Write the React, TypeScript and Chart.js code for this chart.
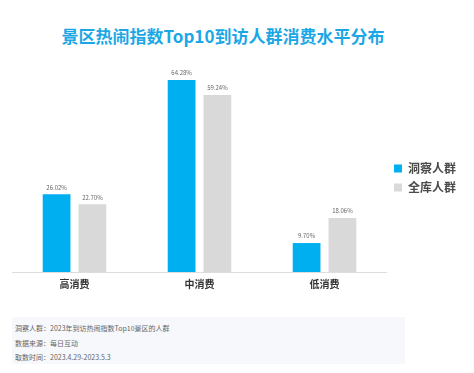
import React, { useEffect, useRef } from "react";
import { Chart, registerables } from "chart.js";

Chart.register(...registerables);

const categories = ["高消费", "中消费", "低消费"];
const seriesNames = ["洞察人群", "全库人群"];
const insightValues = [26.02, 64.28, 9.7];
const allValues = [22.7, 59.24, 18.06];
const seriesColors = ["#00AFEF", "#D9D9D9"];
const titleText = "景区热闹指数Top10到访人群消费水平分布";
const footerLines = [
  "洞察人群：2023年到访热闹指数Top10景区的人群",
  "数据来源：每日互动",
  "取数时间：2023.4.29-2023.5.3",
];

const FONT = "'Noto Sans CJK SC', 'Noto Sans', sans-serif";

const valueLabelPlugin = {
  id: "valueLabels",
  afterDatasetsDraw(chart: any) {
    const ctx = chart.ctx;
    ctx.save();
    ctx.font = `6px ${FONT}`;
    ctx.fillStyle = "#666666";
    ctx.textAlign = "center";
    ctx.textBaseline = "bottom";
    chart.data.datasets.forEach((ds: any, i: number) => {
      const meta = chart.getDatasetMeta(i);
      meta.data.forEach((el: any, j: number) => {
        const v = ds.data[j] as number;
        ctx.fillText(v.toFixed(2) + "%", el.x, el.y - 4);
      });
    });
    ctx.restore();
  },
};

export default function App() {
  const canvasRef = useRef<HTMLCanvasElement>(null);

  useEffect(() => {
    if (!canvasRef.current) return;
    const chart = new Chart(canvasRef.current, {
      type: "bar",
      data: {
        labels: categories,
        datasets: [
          {
            label: seriesNames[0],
            data: insightValues,
            backgroundColor: seriesColors[0],
            categoryPercentage: 0.573,
            barPercentage: 0.775,
          },
          {
            label: seriesNames[1],
            data: allValues,
            backgroundColor: seriesColors[1],
            categoryPercentage: 0.573,
            barPercentage: 0.775,
          },
        ],
      },
      options: {
        responsive: false,
        animation: false,
        layout: { padding: { left: 12, right: 8, top: 10, bottom: 4 } },
        plugins: {
          title: { display: false },
          tooltip: { enabled: false },
          legend: {
            display: true,
            position: "right",
            align: "center",
            labels: {
              boxWidth: 8,
              boxHeight: 8,
              padding: 7,
              color: "#4A4A4A",
              font: { family: FONT, size: 12, weight: "bold" },
            },
          },
        },
        scales: {
          x: {
            grid: { display: false, drawTicks: false },
            border: { display: true, color: "#DDDDDD", width: 1 },
            ticks: {
              padding: 6,
              color: "#333333",
              font: { family: FONT, size: 10, weight: "bold" },
            },
          },
          y: {
            display: false,
            min: 0,
            max: 71,
          },
        },
      },
      plugins: [valueLabelPlugin],
    });
    return () => chart.destroy();
  }, []);

  return (
    <div
      style={{
        position: "absolute",
        left: 0,
        top: 0,
        width: 474,
        height: 373,
        background: "#ffffff",
        overflow: "hidden",
        fontFamily: FONT,
      }}
    >
      <div
        style={{
          position: "absolute",
          left: 0,
          top: 26,
          width: 446,
          textAlign: "center",
          fontSize: 17,
          lineHeight: "20px",
          fontWeight: "bold",
          color: "#1BA7E6",
          whiteSpace: "nowrap",
        }}
      >
        {titleText}
      </div>
      <canvas
        ref={canvasRef}
        width={474}
        height={250}
        style={{ position: "absolute", left: 0, top: 50, width: 474, height: 250 }}
      />
      <div
        style={{
          position: "absolute",
          left: 12,
          top: 317,
          width: 393,
          height: 47,
          background: "#F6F8FB",
          boxSizing: "border-box",
          paddingLeft: 3,
          paddingTop: 4,
          fontSize: 7,
          lineHeight: "14.5px",
          color: "#666666",
        }}
      >
        {footerLines.map((t) => (
          <div key={t}>{t}</div>
        ))}
      </div>
    </div>
  );
}
